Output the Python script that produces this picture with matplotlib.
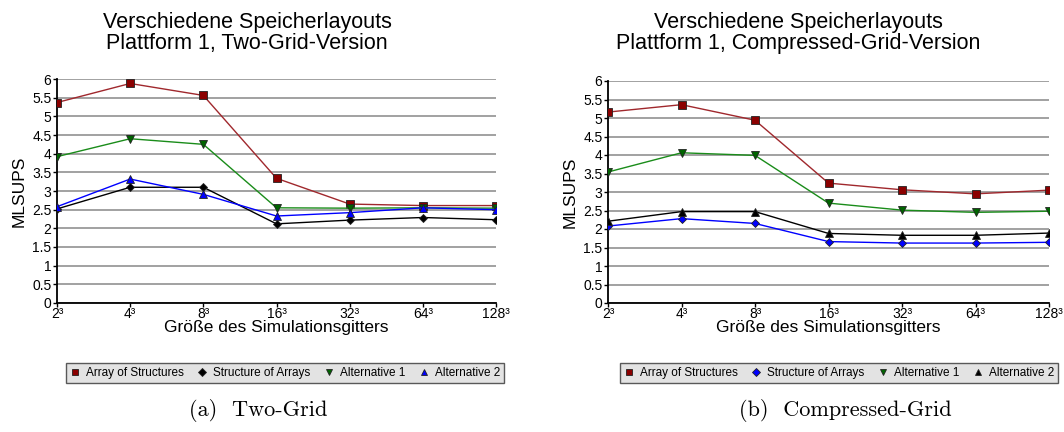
import matplotlib
matplotlib.use("Agg")
import matplotlib.pyplot as plt
from matplotlib.lines import Line2D

plt.rcParams['font.family'] = ['Liberation Sans', 'DejaVu Sans']

sizes = ["2³", "4³", "8³", "16³", "32³", "64³", "128³"]
series_names = ["Array of Structures", "Structure of Arrays", "Alternative 1", "Alternative 2"]

# Two-Grid
two_aos = [5.37, 5.88, 5.56, 3.34, 2.65, 2.61, 2.61]
two_soa = [2.52, 3.10, 3.10, 2.12, 2.22, 2.29, 2.23]
two_alt1 = [3.92, 4.40, 4.25, 2.55, 2.54, 2.55, 2.54]
two_alt2 = [2.58, 3.32, 2.91, 2.33, 2.42, 2.55, 2.50]

# Compressed-Grid
comp_aos = [5.16, 5.36, 4.94, 3.24, 3.06, 2.95, 3.05]
comp_soa = [2.08, 2.28, 2.15, 1.66, 1.62, 1.62, 1.64]
comp_alt1 = [3.54, 4.06, 3.99, 2.70, 2.51, 2.45, 2.48]
comp_alt2 = [2.21, 2.47, 2.47, 1.88, 1.83, 1.83, 1.89]


def draw(ax, data, styles):
    x = range(len(sizes))
    for vals, (lc, mk, mfc, ms) in zip(data, styles):
        ax.plot(x, vals, color=lc, linewidth=1.0, marker=mk, markersize=ms,
                markerfacecolor=mfc, markeredgecolor='#222222', markeredgewidth=0.6, zorder=3)
    ax.set_xlim(0, len(sizes) - 1)
    ax.set_ylim(0, 6)
    ax.set_yticks([i * 0.5 for i in range(13)])
    ax.set_yticklabels(["0", "0.5", "1", "1.5", "2", "2.5", "3", "3.5", "4", "4.5", "5", "5.5", "6"])
    ax.set_xticks(list(x))
    ax.set_xticklabels(sizes)
    ax.grid(True, axis='y', color='#9a9a9a', linewidth=1.3)
    ax.set_axisbelow(True)
    for s in ['top', 'right']:
        ax.spines[s].set_visible(False)
    ax.spines['left'].set_linewidth(1.3)
    ax.spines['bottom'].set_linewidth(1.3)
    ax.tick_params(axis='y', labelsize=10, length=3, width=1, pad=1)
    ax.tick_params(axis='x', labelsize=10, length=3, width=1, pad=0)
    ax.set_ylabel("MLSUPS", fontsize=12.5, labelpad=4)
    ax.set_xlabel("Größe des Simulationsgitters", fontsize=12.5, labelpad=-1)


def legend(fig, styles, cx):
    handles = [Line2D([], [], linestyle='none', marker=mk, markersize=4.5 if mk != 'D' else 4,
                      markerfacecolor=mfc, markeredgecolor='#222222', markeredgewidth=0.6)
               for (lc, mk, mfc, ms) in styles]
    lg = fig.legend(handles, series_names, loc='center', bbox_to_anchor=(cx, 1 - 373 / 432),
                    ncol=4, fontsize=8.5, frameon=True, fancybox=False, handlelength=0.8,
                    handletextpad=0.5, columnspacing=1.2, borderpad=0.35)
    lg.get_frame().set_facecolor('#dcdcdc')
    lg.get_frame().set_edgecolor('#333333')
    lg.get_frame().set_linewidth(1.0)


fig = plt.figure(figsize=(10.64, 4.32), dpi=100)

ax1 = fig.add_axes([57 / 1064, 129 / 432, 439 / 1064, 224 / 432])
styles1 = [('#a0282d', 's', '#8b0000', 5.5),
           ('black', 'D', 'black', 4),
           ('#1a8c1a', 'v', '#006400', 6),
           ('#0000ff', '^', '#0000ff', 6)]
draw(ax1, [two_aos, two_soa, two_alt1, two_alt2], styles1)

ax2 = fig.add_axes([608 / 1064, 129 / 432, 441 / 1064, 222 / 432])
styles2 = [('#a0282d', 's', '#8b0000', 5.5),
           ('#0000ff', 'D', '#0000ff', 4),
           ('#1a8c1a', 'v', '#006400', 6),
           ('black', '^', 'black', 6)]
draw(ax2, [comp_aos, comp_soa, comp_alt1, comp_alt2], styles2)

fig.text(247 / 1064, 1 - 33 / 432, "Verschiedene Speicherlayouts\nPlattform 1, Two-Grid-Version",
         ha='center', va='center', fontsize=15.5, linespacing=1.0)
fig.text(798 / 1064, 1 - 33 / 432, "Verschiedene Speicherlayouts\nPlattform 1, Compressed-Grid-Version",
         ha='center', va='center', fontsize=15.5, linespacing=1.0)

legend(fig, styles1, 285 / 1064)
legend(fig, styles2, 839 / 1064)

fig.text(258 / 1064, 1 - 410 / 432, "(a)  Two-Grid", ha='center', va='center',
         fontsize=16, family='cmr10')
fig.text(845 / 1064, 1 - 410 / 432, "(b)  Compressed-Grid", ha='center', va='center',
         fontsize=16, family='cmr10')

fig.savefig("out.png", dpi=100)
